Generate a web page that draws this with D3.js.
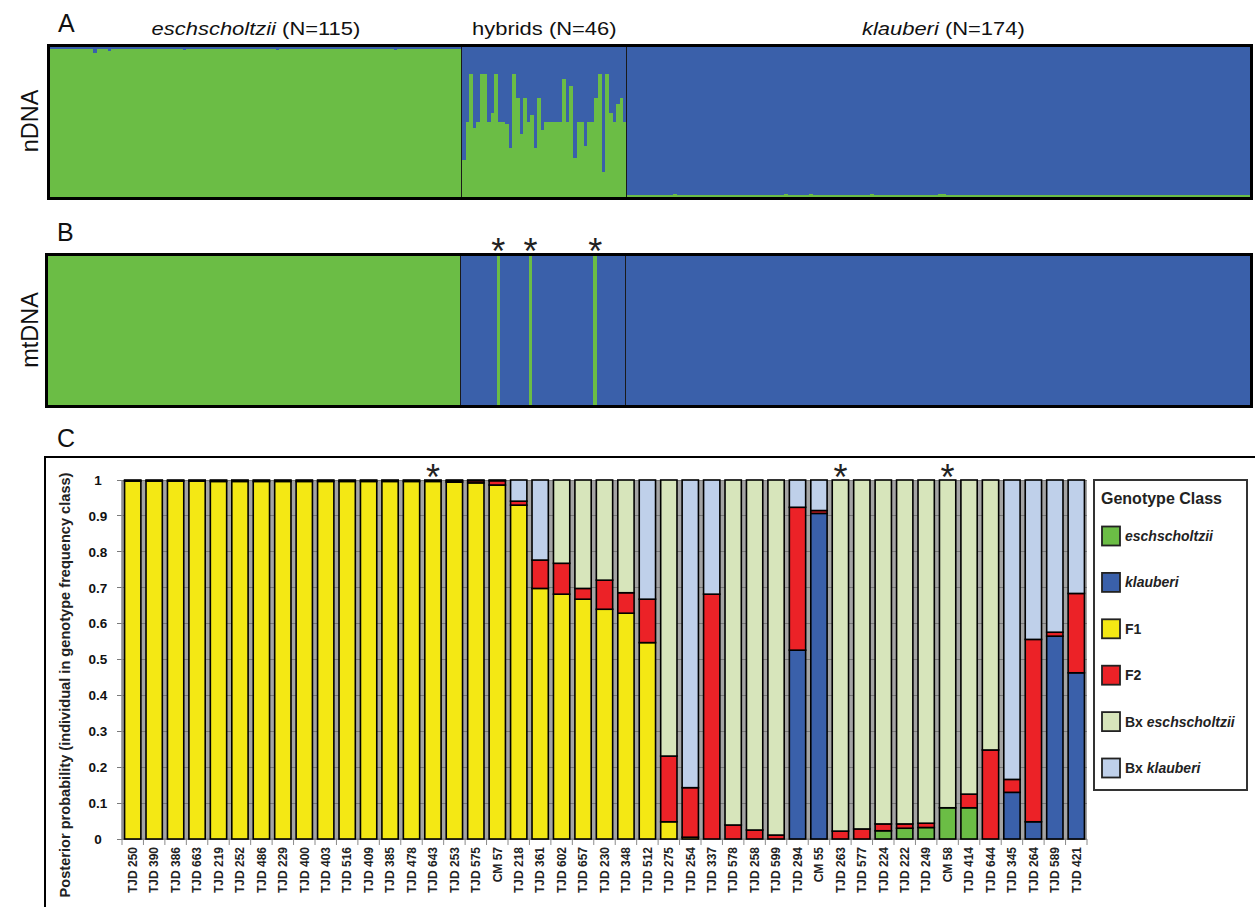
<!DOCTYPE html>
<html><head><meta charset="utf-8">
<script src="https://cdn.jsdelivr.net/npm/d3@7"></script>
<style>body{margin:0;background:#fff} svg{display:block} text{font-family:"Liberation Sans",Arial,Helvetica,sans-serif}</style>
</head><body><svg id="c" width="1255" height="907"></svg>
<script>
// ---------- Panel A: nDNA (proportion of eschscholtzii ancestry per individual) ----------
const groupNames = ["eschscholtzii", "hybrids", "klauberi"];
const groupN = [115, 46, 174];
const nEsch = [
 .985,.985,.99,.985,.985,.985,.99,.985,.985,.985,
 .985,.985,.96,.985,.99,.985,.975,.985,.985,.99,
 .985,.985,.985,.99,.985,.985,.985,.985,.99,.985,
 .985,.99,.985,.985,.985,.985,.985,.98,.985,.985,
 .99,.985,.985,.985,.985,.99,.985,.985,.985,.985,
 .985,.985,.99,.985,.985,.985,.985,.985,.99,.985,
 .985,.985,.985,.98,.985,.985,.99,.985,.985,.985,
 .985,.99,.985,.985,.985,.985,.985,.985,.99,.985,
 .985,.985,.985,.985,.99,.985,.985,.985,.985,.985,
 .99,.985,.985,.985,.985,.985,.98,.985,.985,.985,
 .985,.985,.99,.985,.985,.985,.985,.985,.985,.99,
 .985,.985,.985,.985,.985];
const nHyb = [
 0.25,0.50,0.82,0.46,0.50,0.82,0.82,0.50,0.56,0.82,
 0.50,0.50,0.49,0.33,0.82,0.66,0.42,0.66,0.50,0.55,
 0.33,0.66,0.45,0.50,0.50,0.50,0.50,0.50,0.79,0.50,
 0.74,0.26,0.50,0.50,0.34,0.50,0.50,0.66,0.82,0.17,
 0.82,0.56,0.50,0.62,0.66,0.50];
const nKlau = [
 .012,.012,.012,.012,.012,.015,.012,.012,.012,.012,
 .012,.012,.012,.02,.012,.012,.012,.012,.012,.012,
 .012,.012,.012,.012,.012,.012,.012,.012,.012,.012,
 .012,.012,.012,.012,.012,.012,.012,.012,.012,.012,
 .012,.012,.012,.012,.02,.012,.012,.012,.012,.012,
 .012,.02,.012,.012,.012,.012,.012,.012,.012,.012,
 .012,.012,.012,.012,.012,.012,.012,.012,.02,.012,
 .012,.012,.012,.012,.012,.012,.012,.012,.012,.012,
 .012,.012,.012,.012,.012,.012,.012,.022,.022,.012,
 .012,.012,.012,.012,.012,.012,.012,.012,.012,.012,
 .012,.012,.012,.012,.012,.012,.012,.012,.012,.012,
 .012,.012,.012,.012,.012,.012,.012,.012,.012,.012,
 .012,.012,.012,.012,.012,.012,.012,.012,.012,.012,
 .012,.012,.012,.012,.012,.012,.012,.012,.012,.012,
 .012,.012,.012,.012,.012,.012,.012,.012,.012,.012,
 .012,.012,.012,.012,.012,.012,.012,.012,.012,.012,
 .012,.012,.012,.012,.012,.012,.012,.012,.012,.012,
 .012,.012,.012,.012];

// ---------- Panel B: mtDNA haplotype (E = eschscholtzii, K = klauberi) ----------
const mtEsch = ["EEEEEEEEEE","EEEEEEEEEE","EEEEEEEEEE","EEEEEEEEEE","EEEEEEEEEE","EEEEEEEEEE",
 "EEEEEEEEEE","EEEEEEEEEE","EEEEEEEEEE","EEEEEEEEEE","EEEEEEEEEE","EEEEE"].join("");
const mtHyb = "KKKKKKKKKK" + "E" + "KKKKKKKK" + "E" + "KKKKKKKKKKKKKKKKK" + "E" + "KKKKKKKK";
const mtKlau = ["KKKKKKKKKK","KKKKKKKKKK","KKKKKKKKKK","KKKKKKKKKK","KKKKKKKKKK","KKKKKKKKKK",
 "KKKKKKKKKK","KKKKKKKKKK","KKKKKKKKKK","KKKKKKKKKK","KKKKKKKKKK","KKKKKKKKKK",
 "KKKKKKKKKK","KKKKKKKKKK","KKKKKKKKKK","KKKKKKKKKK","KKKKKKKKKK","KKKK"].join("");

// ---------- Panel C: NewHybrids posterior probabilities ----------
const individuals = ["TJD 250","TJD 390","TJD 386","TJD 663","TJD 219","TJD 252","TJD 486","TJD 229","TJD 400","TJD 403",
 "TJD 516","TJD 409","TJD 385","TJD 478","TJD 643","TJD 253","TJD 575","CM 57","TJD 218","TJD 361",
 "TJD 602","TJD 657","TJD 230","TJD 348","TJD 512","TJD 275","TJD 254","TJD 337","TJD 578","TJD 258",
 "TJD 599","TJD 294","CM 55","TJD 263","TJD 577","TJD 224","TJD 222","TJD 249","CM 58","TJD 414",
 "TJD 644","TJD 345","TJD 264","TJD 589","TJD 421"];
const starred = ["TJD 643","TJD 263","CM 58"];
const classes = ["eschscholtzii","klauberi","F1","F2","Bx eschscholtzii","Bx klauberi"];
const pEsch = [0,0,0,0,0,0,0,0,0,0, 0,0,0,0,0,0,0,0,0,0, 0,0,0,0,0,0,0,0,0,0, 0,0,0,0,0,0.023,0.030,0.032,0.087,0.087, 0,0,0,0,0];
const pKlau = [0,0,0,0,0,0,0,0,0,0, 0,0,0,0,0,0,0,0,0,0, 0,0,0,0,0,0,0,0,0,0, 0,0.526,0.907,0,0,0,0,0,0,0, 0,0.130,0.048,0.565,0.463];
const pF1 = [0.997,0.997,0.997,0.997,0.996,0.996,0.996,0.996,0.996,0.996, 0.996,0.996,0.996,0.996,0.996,0.994,0.992,0.986,0.930,0.698,
 0.682,0.668,0.640,0.629,0.547,0.048,0.005,0,0,0, 0,0,0,0,0,0,0,0,0,0, 0,0,0,0,0];
const pF2 = [0,0,0,0,0,0,0,0,0,0, 0,0,0,0,0,0.004,0.006,0.012,0.011,0.079,
 0.086,0.030,0.081,0.057,0.121,0.183,0.138,0.682,0.039,0.025, 0.011,0.398,0.008,0.022,0.028,0.019,0.012,0.012,0,0.038,
 0.248,0.036,0.508,0.011,0.221];
const pBxE = [0.003,0.003,0.003,0.003,0.004,0.004,0.004,0.004,0.004,0.004, 0.004,0.004,0.004,0.004,0.004,0.002,0.002,0.002,0,0,
 0.232,0.302,0.279,0.314,0,0.769,0,0,0.961,0.975, 0.989,0,0,0.978,0.972,0.958,0.958,0.956,0.913,0.875,
 0.752,0,0,0,0];
const pBxK = [0,0,0,0,0,0,0,0,0,0, 0,0,0,0,0,0,0,0,0.059,0.223,
 0,0,0,0,0.332,0,0.857,0.318,0,0, 0,0.076,0.085,0,0,0,0,0,0,0,
 0,0.834,0.444,0.424,0.316];
const yTicks = [0,0.1,0.2,0.3,0.4,0.5,0.6,0.7,0.8,0.9,1];

// ---------- styling ----------
const GREEN = "#6bbd45", BLUE = "#3a60aa";
const classColors = ["#6bbd45","#3a60aa","#f4e814","#ec2227","#d7e5bb","#bfd0ea"];

const svg = d3.select("#c");

// ===== Panel A =====
const nAll = nEsch.concat(nHyb, nKlau);
const xA = d3.scaleBand().domain(d3.range(nAll.length)).range([50, 1250]).padding(0);
const yA = d3.scaleLinear().domain([0, 1]).range([197, 47]);
const gA = svg.append("g").attr("shape-rendering", "crispEdges");
gA.selectAll("rect.b").data(nAll).join("rect")
  .attr("x", (d, i) => xA(i)).attr("width", xA.bandwidth() + 0.3)
  .attr("y", yA(1)).attr("height", d => yA(d) - yA(1)).attr("fill", BLUE);
gA.selectAll("rect.g").data(nAll).join("rect")
  .attr("x", (d, i) => xA(i)).attr("width", xA.bandwidth() + 0.3)
  .attr("y", d => yA(d)).attr("height", d => yA(0) - yA(d)).attr("fill", GREEN);
const cum = d3.cumsum(groupN);
[cum[0], cum[1]].forEach(c => gA.append("line").attr("x1", xA(c)).attr("x2", xA(c))
  .attr("y1", yA(1)).attr("y2", yA(0)).attr("stroke", "#1a1a1a").attr("stroke-width", 1));
svg.append("rect").attr("x", 48.5).attr("y", 45.5).attr("width", 1203).attr("height", 153)
  .attr("fill", "none").attr("stroke", "#000").attr("stroke-width", 3);

// group titles
const starts = [0, cum[0], cum[1]];
groupNames.forEach((g, i) => {
  const cx = (xA(starts[i]) + xA(cum[i] - 1) + xA.bandwidth()) / 2 + (i === 2 ? 5 : 0);
  const t = svg.append("text").attr("transform", `translate(${cx},35) scale(1.22,1)`)
    .attr("text-anchor", "middle").attr("font-size", 18).attr("fill", "#111");
  if (g === "hybrids") t.append("tspan").text(g);
  else t.append("tspan").attr("font-style", "italic").text(g);
  t.append("tspan").text(` (N=${groupN[i]})`);
});

// ===== Panel B =====
const mtAll = (mtEsch + mtHyb + mtKlau).split("");
const xB = d3.scaleBand().domain(d3.range(mtAll.length)).range([48, 1250]).padding(0);
const yB = d3.scaleLinear().domain([0, 1]).range([405, 256]);
const gB = svg.append("g").attr("shape-rendering", "crispEdges");
gB.selectAll("rect").data(mtAll).join("rect")
  .attr("x", (d, i) => xB(i)).attr("width", xB.bandwidth() + 0.3)
  .attr("y", yB(1)).attr("height", yB(0) - yB(1))
  .attr("fill", d => d === "E" ? GREEN : BLUE);
[cum[0], cum[1]].forEach(c => gB.append("line").attr("x1", xB(c)).attr("x2", xB(c))
  .attr("y1", yB(1)).attr("y2", yB(0)).attr("stroke", "#1a1a1a").attr("stroke-width", 1));
svg.append("rect").attr("x", 46.5).attr("y", 254.5).attr("width", 1205).attr("height", 152)
  .attr("fill", "none").attr("stroke", "#000").attr("stroke-width", 3);
// asterisks over hybrids carrying eschscholtzii mtDNA
mtHyb.split("").forEach((d, i) => {
  if (d === "E") svg.append("text").attr("x", xB(cum[0] + i) + xB.bandwidth() / 2).attr("y", 264)
    .attr("text-anchor", "middle").attr("font-size", 36).attr("fill", "#222").text("*");
});

// side labels
[["nDNA", 121], ["mtDNA", 330]].forEach(([t, cy]) =>
  svg.append("text").attr("transform", `translate(38,${cy}) rotate(-90)`).attr("text-anchor", "middle")
    .attr("font-size", 23.5).attr("fill", "#111").text(t));
[["A", 58, 32], ["B", 57, 241], ["C", 57, 447]].forEach(([t, x, y]) =>
  svg.append("text").attr("x", x).attr("y", y).attr("font-size", 25).attr("fill", "#111").text(t));

// ===== Panel C =====
svg.append("rect").attr("x", 45).attr("y", 457).attr("width", 1240).attr("height", 480)
  .attr("fill", "none").attr("stroke", "#000").attr("stroke-width", 2);

const x = d3.scaleBand().domain(individuals).range([122, 1087]).paddingInner(0.17).paddingOuter(0.085);
const y = d3.scaleLinear().domain([0, 1]).range([839, 480]);
const gC = svg.append("g");
gC.append("rect").attr("x", 122).attr("y", y(1)).attr("width", 1087 - 122).attr("height", y(0) - y(1))
  .attr("fill", "#a4a4a4");
gC.selectAll("line.grid").data(yTicks).join("line")
  .attr("x1", 117).attr("x2", 1087).attr("y1", d => y(d)).attr("y2", d => y(d))
  .attr("stroke", "#7a7a7a").attr("stroke-width", 1).attr("shape-rendering", "crispEdges");
gC.append("line").attr("x1", 122).attr("x2", 122).attr("y1", y(1)).attr("y2", y(0))
  .attr("stroke", "#8a8a8a").attr("stroke-width", 1.5);
// x ticks between categories
gC.selectAll("line.xt").data(d3.range(individuals.length + 1)).join("line")
  .attr("x1", i => 122 + i * x.step()).attr("x2", i => 122 + i * x.step())
  .attr("y1", y(0)).attr("y2", y(0) + 6).attr("stroke", "#8a8a8a").attr("stroke-width", 1);
gC.append("line").attr("x1", 122).attr("x2", 1087).attr("y1", y(0)).attr("y2", y(0))
  .attr("stroke", "#8a8a8a").attr("stroke-width", 1.5);

const rows = individuals.map((n, i) => ({
  name: n, "eschscholtzii": pEsch[i], "klauberi": pKlau[i], "F1": pF1[i], "F2": pF2[i],
  "Bx eschscholtzii": pBxE[i], "Bx klauberi": pBxK[i]
}));
const series = d3.stack().keys(classes)(rows);
series.forEach((s, k) => {
  gC.append("g").selectAll("rect").data(s.filter(d => d[1] - d[0] > 0.0005)).join("rect")
    .attr("x", d => x(d.data.name) + 0.75).attr("width", x.bandwidth() - 1.5)
    .attr("y", d => y(d[1])).attr("height", d => Math.max(0, y(d[0]) - y(d[1])))
    .attr("fill", classColors[k]).attr("stroke", "#000").attr("stroke-width", 1.6);
});
// y tick labels
gC.selectAll("text.yl").data(yTicks).join("text")
  .attr("x", 98).attr("y", d => y(d)).attr("dy", "0.36em").attr("text-anchor", "middle")
  .attr("font-size", 13.5).attr("font-weight", "bold").attr("fill", "#111")
  .text(d => d === 0 || d === 1 ? String(d) : d.toFixed(1));
// x labels
gC.selectAll("text.xl").data(individuals).join("text")
  .attr("transform", d => `translate(${x(d) + x.bandwidth() / 2},847) rotate(-90)`)
  .attr("dy", "0.36em").attr("text-anchor", "end").attr("font-size", 12).attr("font-weight", "bold")
  .attr("fill", "#222").text(d => d);
// y title
svg.append("text").attr("transform", "translate(65,685) rotate(-90)").attr("dy", "0.35em")
  .attr("text-anchor", "middle").attr("font-size", 14.6).attr("font-weight", "bold").attr("fill", "#222")
  .text("Posterior probability (individual in genotype frequency class)");
// asterisks
starred.forEach(s => svg.append("text").attr("x", x(s) + x.bandwidth() / 2).attr("y", 490)
  .attr("text-anchor", "middle").attr("font-size", 36).attr("fill", "#222").text("*"));

// legend
const lg = svg.append("g");
lg.append("rect").attr("x", 1094).attr("y", 480).attr("width", 153).attr("height", 310)
  .attr("fill", "#fff").attr("stroke", "#333").attr("stroke-width", 2);
lg.append("text").attr("x", 1101).attr("y", 504).attr("font-size", 16).attr("font-weight", "bold")
  .attr("fill", "#222").text("Genotype Class");
classes.forEach((c, i) => {
  const cy = 536 + i * 46.4;
  lg.append("rect").attr("x", 1102).attr("y", cy - 9.5).attr("width", 18).attr("height", 19)
    .attr("fill", classColors[i]).attr("stroke", "#222").attr("stroke-width", 1.8);
  const t = lg.append("text").attr("x", 1125).attr("y", cy).attr("dy", "0.36em")
    .attr("font-size", 14).attr("font-weight", "bold").attr("fill", "#222");
  if (c.startsWith("Bx ")) { t.append("tspan").text("Bx "); t.append("tspan").attr("font-style", "italic").text(c.slice(3)); }
  else if (c === "F1" || c === "F2") t.text(c);
  else t.attr("font-style", "italic").text(c);
});
</script></body></html>
